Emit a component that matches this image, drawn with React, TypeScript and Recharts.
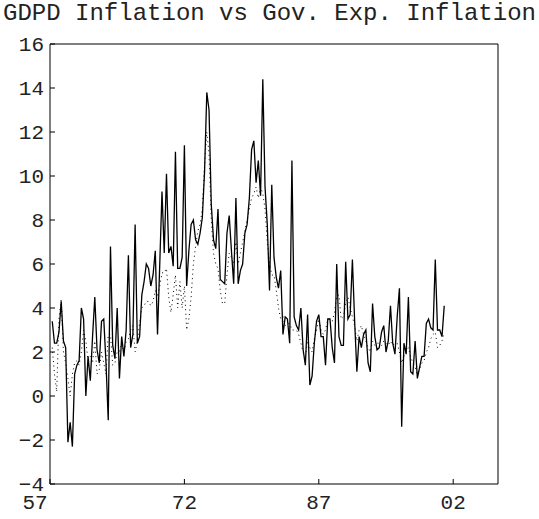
import { LineChart, Line, XAxis, YAxis } from 'recharts'

// quarterly observations, first quarter shown is 1957.25
const firstQuarter = 1957.25

const gdpdInflation = [
  3.4, 2.4, 2.4, 2.9, 4.3, 2.5, 2.2, -2.1, -1.2, -2.3,
  1.0, 1.4, 1.6, 4.0, 3.5, 0.0, 1.8, 0.7, 2.7, 4.5,
  2.1, 1.5, 3.4, 3.5, 1.5, -1.1, 6.8, 2.3, 1.7, 4.0,
  0.8, 2.7, 1.8, 3.0, 6.4, 2.2, 2.8, 7.8, 2.4, 2.7,
  4.6, 5.2, 6.0, 5.8, 5.0, 5.5, 6.6, 2.8, 6.0, 9.3,
  6.5, 10.1, 6.5, 6.8, 5.9, 11.1, 5.8, 5.8, 6.3, 11.4,
  5.0, 6.6, 7.8, 8.0, 7.1, 6.9, 7.4, 8.1, 10.2, 13.8,
  13.0, 8.7, 7.1, 6.7, 8.5, 5.3, 5.2, 5.1, 7.4, 8.2,
  6.6, 5.1, 9.0, 5.1, 5.7, 6.0, 7.4, 7.8, 9.0, 11.2,
  11.6, 9.7, 10.7, 9.1, 14.4, 9.5, 7.8, 4.8, 9.6, 6.3,
  5.4, 4.9, 5.7, 2.8, 3.6, 3.5, 2.4, 10.7, 3.6, 3.2,
  3.0, 4.0, 2.1, 1.4, 3.7, 0.5, 0.9, 2.4, 3.4, 3.7,
  2.7, 2.7, 1.4, 3.5, 3.5, 2.2, 1.5, 6.0, 2.7, 2.3,
  2.3, 6.1, 3.5, 3.7, 6.2, 3.4, 1.1, 2.7, 2.2, 2.8,
  3.0, 1.5, 1.1, 4.2, 2.7, 2.1, 2.2, 2.9, 3.2, 2.0,
  2.5, 4.1, 2.4, 1.9, 3.6, 4.9, -1.4, 2.4, 1.9, 4.5,
  1.1, 1.0, 2.5, 0.8, 1.3, 1.8, 1.8, 3.3, 3.5, 3.1,
  3.0, 6.2, 3.0, 3.0, 2.7, 4.1,
]

const govExpInflation = [
  2.2, 1.0, 0.2, 3.5, 4.4, 2.0, 1.5, 0.8, 0.0, 1.0,
  1.5, 1.6, 1.4, 2.0, 3.0, 2.5, 1.6, 1.8, 1.5, 2.5,
  1.0, 1.2, 2.0, 1.5, 1.0, 2.8, 2.8, 1.4, 1.5, 2.0,
  2.0, 2.4, 2.0, 2.5, 2.6, 3.0, 3.2, 2.0, 2.5, 3.3,
  4.0, 4.1, 4.3, 4.3, 4.1, 4.3, 4.8, 4.5, 5.0, 5.6,
  5.6, 5.8, 4.5, 3.8, 4.6, 5.5, 4.0, 5.2, 4.0, 5.0,
  3.0, 3.5, 4.5, 6.0, 6.8, 7.5, 7.8, 8.5, 10.5, 12.0,
  11.0, 8.0, 6.5, 6.0, 5.8, 4.8, 4.2, 4.2, 5.5, 6.5,
  6.3, 6.0, 7.0, 6.0, 6.5, 7.0, 7.5, 8.0, 8.5, 9.0,
  9.2, 9.5, 9.0, 9.5, 9.2, 8.5, 7.0, 6.0, 5.5, 5.5,
  4.8, 4.0, 3.5, 3.6, 3.2, 3.3, 3.3, 3.0, 3.0, 3.0,
  2.8, 2.4, 2.0, 1.8, 2.5, 2.2, 2.0, 2.6, 3.0, 3.5,
  3.0, 2.8, 3.0, 3.5, 3.5, 3.4, 3.8, 4.5, 4.6, 3.5,
  3.6, 4.2, 4.5, 4.0, 3.6, 3.2, 2.5, 3.0, 3.2, 2.8,
  2.5, 2.2, 2.0, 2.5, 2.3, 2.4, 2.4, 2.3, 2.5, 2.4,
  2.3, 2.5, 2.3, 2.4, 2.4, 2.0, 1.5, 1.8, 2.0, 2.2,
  1.8, 1.5, 1.3, 1.0, 1.2, 1.5, 1.6, 2.0, 2.2, 2.6,
  2.8, 2.9, 2.2, 2.3, 2.5, 2.9,
]

const xTicks = [1957, 1972, 1987, 2002]
const yTicks = [-4, -2, 0, 2, 4, 6, 8, 10, 12, 14, 16]

const data = gdpdInflation.map((v, i) => ({
  year: firstQuarter + i * 0.25,
  gdpd: v,
  gov: govExpInflation[i],
}))

const font = '"Liberation Mono", "Courier New", monospace'
const ink = '#222'

const yearLabel = (v: number) => String(v % 100).padStart(2, '0')
const numLabel = (v: number) => (v < 0 ? '\u2212' + Math.abs(v) : String(v))

function XTick(props: any) {
  const { x, y, payload, index } = props
  // matlab pushes the first label left of the corner
  const shift = index === 0 ? -15 : 0
  return (
    <text x={x + shift} y={y} dy="0.71em" textAnchor="middle" fontFamily={font} fontSize={21} fill={ink}>
      {yearLabel(payload.value)}
    </text>
  )
}

export default function App() {
  return (
    <div style={{ position: 'absolute', left: 0, top: 0, width: 539, height: 519, background: '#fff' }}>
      <div
        style={{
          position: 'absolute',
          top: 2,
          left: 0,
          width: 539,
          textAlign: 'center',
          fontFamily: font,
          fontSize: 24,
          lineHeight: '24px',
          color: ink,
          whiteSpace: 'nowrap',
        }}
      >
        GDPD Inflation vs Gov. Exp. Inflation
      </div>
      <LineChart width={539} height={519} data={data} margin={{ top: 43, right: 40, bottom: 0, left: 0 }}>
        <XAxis
          dataKey="year"
          type="number"
          domain={[1957, 2007]}
          allowDataOverflow
          ticks={xTicks}
          height={35}
          tickSize={-5}
          tickMargin={15}
          tick={<XTick />}
          axisLine={{ stroke: '#000' }}
          tickLine={{ stroke: '#000' }}
        />
        <XAxis
          xAxisId="top"
          orientation="top"
          type="number"
          domain={[1957, 2007]}
          allowDataOverflow
          ticks={xTicks}
          height={1}
          tickSize={-5}
          tick={false}
          axisLine={{ stroke: '#000' }}
          tickLine={{ stroke: '#000' }}
        />
        <YAxis
          type="number"
          domain={[-4, 16]}
          allowDataOverflow
          ticks={yTicks}
          width={50}
          tickSize={-5}
          tickMargin={11}
          tickFormatter={numLabel}
          tick={{ fontFamily: font, fontSize: 21, fill: ink }}
          axisLine={{ stroke: '#000' }}
          tickLine={{ stroke: '#000' }}
        />
        <YAxis
          yAxisId="right"
          orientation="right"
          type="number"
          domain={[-4, 16]}
          allowDataOverflow
          ticks={yTicks}
          width={1}
          tickSize={-5}
          tick={false}
          axisLine={{ stroke: '#000' }}
          tickLine={{ stroke: '#000' }}
        />
        <Line
          type="linear"
          dataKey="gov"
          stroke="#000"
          strokeWidth={1}
          strokeDasharray="1 3.5"
          dot={false}
          isAnimationActive={false}
        />
        <Line
          type="linear"
          dataKey="gdpd"
          stroke="#000"
          strokeWidth={1.3}
          dot={false}
          isAnimationActive={false}
        />
      </LineChart>
    </div>
  )
}
